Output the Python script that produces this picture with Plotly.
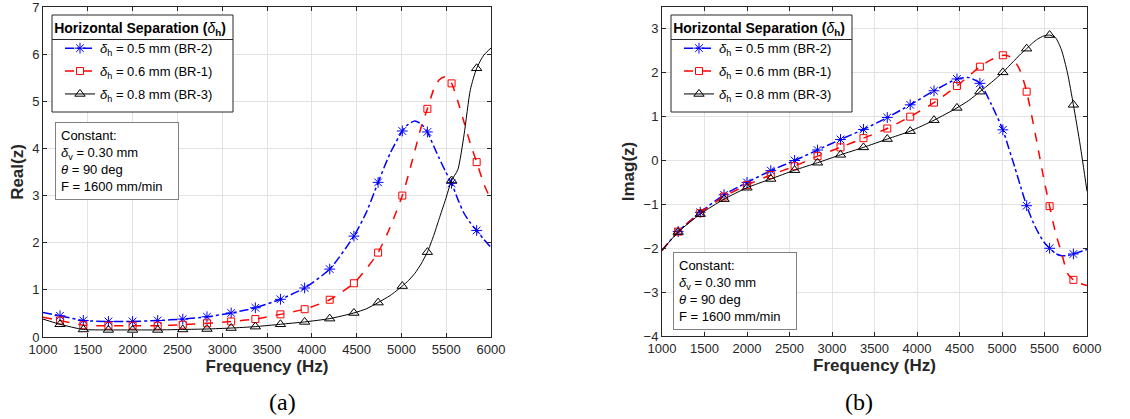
import plotly.graph_objects as go

# ---------------- data ----------------
freq = [1000, 1190, 1450, 1730, 2000, 2280, 2560, 2830, 3100, 3370, 3650, 3920, 4200, 4470,
        4610, 4740, 4875, 5010, 5080, 5150, 5220, 5290, 5360, 5420, 5490, 5560, 5630, 5700,
        5770, 5840, 5920, 6000]
marker_freq = [1190, 1450, 1730, 2000, 2280, 2560, 2830, 3100, 3370, 3650, 3920, 4200, 4470,
               4740, 5010, 5290, 5560, 5840]

real_br2 = [0.52, 0.45, 0.35, 0.33, 0.33, 0.35, 0.38, 0.43, 0.51, 0.62, 0.80, 1.04, 1.44, 2.14,
            2.65, 3.28, 3.90, 4.37, 4.52, 4.58, 4.52, 4.35, 4.05, 3.80, 3.52, 3.26, 2.92, 2.62,
            2.42, 2.26, 2.07, 1.90]
real_br1 = [0.42, 0.35, 0.25, 0.24, 0.24, 0.24, 0.26, 0.29, 0.33, 0.38, 0.48, 0.59, 0.79, 1.14,
            1.45, 1.79, 2.33, 3.00, 3.45, 3.95, 4.45, 4.84, 5.25, 5.45, 5.52, 5.38, 5.00, 4.55,
            4.10, 3.71, 3.25, 2.90]
real_br3 = [0.38, 0.27, 0.16, 0.15, 0.15, 0.15, 0.16, 0.17, 0.19, 0.22, 0.27, 0.32, 0.39, 0.51,
            0.60, 0.73, 0.88, 1.08, 1.20, 1.35, 1.55, 1.80, 2.15, 2.50, 2.90, 3.32, 3.55, 4.30,
            5.25, 5.70, 5.98, 6.13]

imag_br2 = [-2.05, -1.62, -1.18, -0.78, -0.50, -0.23, 0.00, 0.24, 0.48, 0.71, 0.98, 1.27, 1.59, 1.86,
            1.89, 1.76, 1.28, 0.70, 0.28, -0.15, -0.60, -1.03, -1.38, -1.62, -1.85, -2.00, -2.12, -2.17,
            -2.17, -2.13, -2.08, -2.03]
imag_br1 = [-2.05, -1.62, -1.20, -0.82, -0.56, -0.33, -0.13, 0.10, 0.30, 0.51, 0.73, 1.00, 1.32, 1.70,
            1.93, 2.14, 2.30, 2.40, 2.38, 2.27, 2.02, 1.57, 0.92, 0.32, -0.40, -1.04, -1.65, -2.10,
            -2.57, -2.72, -2.80, -2.85]
imag_br3 = [-2.05, -1.63, -1.22, -0.88, -0.62, -0.42, -0.22, -0.05, 0.13, 0.30, 0.49, 0.67, 0.92, 1.20,
            1.37, 1.57, 1.78, 2.01, 2.15, 2.29, 2.43, 2.55, 2.68, 2.77, 2.84, 2.86, 2.80, 2.52,
            2.00, 1.27, 0.35, -0.70]

x_ticks = [1000, 1500, 2000, 2500, 3000, 3500, 4000, 4500, 5000, 5500, 6000]
real_ticks = [0, 1, 2, 3, 4, 5, 6, 7]
imag_ticks = [-4, -3, -2, -1, 0, 1, 2, 3]

series_names = ["<i>δ</i><sub>h</sub> = 0.5 mm (BR-2)",
                "<i>δ</i><sub>h</sub> = 0.6 mm (BR-1)",
                "<i>δ</i><sub>h</sub> = 0.8 mm (BR-3)"]

# ---------------- styles ----------------
styles = [
    dict(color="#0000ff", dash="dashdot", width=1.5, symbol="asterisk-open", msize=9),
    dict(color="#ff0000", dash="dash", width=1.5, symbol="square-open", msize=7),
    dict(color="#000000", dash="solid", width=1.0, symbol="triangle-up-open", msize=9),
]

W, H = 1130, 419
FONT = "Liberation Sans, Arial, Helvetica, sans-serif"
AX = "#262626"

fig = go.Figure()

idx = [freq.index(f) for f in marker_freq]

panels = [
    (("x", "y"), [real_br2, real_br1, real_br3], "legend"),
    (("x2", "y2"), [imag_br2, imag_br1, imag_br3], "legend2"),
]

for (xa, ya), data, leg in panels:
    for s, (vals, st, name) in enumerate(zip(data, styles, series_names)):
        fig.add_trace(go.Scatter(
            x=freq, y=vals, xaxis=xa, yaxis=ya, mode="lines",
            line=dict(color=st["color"], dash=st["dash"], width=st["width"], shape="spline", smoothing=0.6),
            showlegend=False, hoverinfo="skip"))
        fig.add_trace(go.Scatter(
            x=[freq[i] for i in idx], y=[vals[i] for i in idx], xaxis=xa, yaxis=ya, mode="markers",
            marker=dict(symbol=st["symbol"], size=st["msize"], color=st["color"],
                        line=dict(color=st["color"], width=1)),
            showlegend=False))
        fig.add_trace(go.Scatter(
            x=[None], y=[None], xaxis=xa, yaxis=ya, mode="lines+markers", name=name,
            line=dict(color=st["color"], dash=st["dash"], width=st["width"]),
            marker=dict(symbol=st["symbol"], size=st["msize"], color=st["color"],
                        line=dict(color=st["color"], width=1)),
            legend=leg, legendgroup=f"{leg}_{s}", showlegend=True))

L1, R1 = 43, 491
L2, R2 = 662, 1087
TOP, BOT = 7, 337

def px(x):
    return x / W

def py(y):
    return 1 - y / H

axis_common = dict(
    showline=True, linecolor=AX, linewidth=1, mirror="ticks",
    ticks="inside", ticklen=4, tickcolor=AX, tickwidth=1,
    showgrid=True, gridcolor="#e3e3e3", gridwidth=1, zeroline=False,
    tickfont=dict(family=FONT, size=13, color=AX), automargin=False,
    ticklabeloverflow="allow",
)
title_font = dict(family=FONT, size=17, color=AX)

fig.update_layout(
    width=W, height=H, margin=dict(l=0, r=0, t=0, b=0),
    paper_bgcolor="white", plot_bgcolor="white",
    font=dict(family=FONT, size=12, color=AX),
    xaxis=dict(domain=[px(L1), px(R1)], range=[1000, 6000], tickvals=x_ticks, anchor="y",
               title=dict(text="<b>Frequency (Hz)</b>", font=title_font, standoff=4),
               **axis_common),
    yaxis=dict(domain=[py(BOT), py(TOP)], range=[0, 7], tickvals=real_ticks, anchor="x",
               title=dict(text="<b>Real(z)</b>", font=title_font, standoff=4),
               **axis_common),
    xaxis2=dict(domain=[px(L2), px(R2)], range=[1000, 6000], tickvals=x_ticks, anchor="y2",
                title=dict(text="<b>Frequency (Hz)</b>", font=title_font, standoff=4),
                **axis_common),
    yaxis2=dict(domain=[py(336), py(TOP)], range=[-4, 3.5], tickvals=imag_ticks, anchor="x2",
                title=dict(text="<b>Imag(z)</b>", font=title_font, standoff=4),
                **axis_common),
)

legend_title = "<b>Horizontal Separation (</b><i>δ</i><b><sub>h</sub>)</b>"
leg_common = dict(
    xanchor="left", yanchor="top", bgcolor="rgba(0,0,0,0)", borderwidth=0,
    font=dict(family=FONT, size=13, color="#000000"),
    title=dict(text=legend_title, side="top center", font=dict(family=FONT, size=14, color="#000000")),
    itemwidth=30, tracegroupgap=3, indentation=8,
)
LEG1_X, LEG2_X, LEG_Y, LEG_W, LEG_B, LEG_DIV = 52, 671, 15, 181, 112, 39.5
fig.update_layout(
    legend=dict(x=px(LEG1_X), y=py(LEG_Y), **leg_common),
    legend2=dict(x=px(LEG2_X), y=py(LEG_Y), **leg_common),
)
# legend frame (white box) and divider between legend title and entries
for lx in (LEG1_X, LEG2_X):
    fig.add_shape(type="rect", xref="paper", yref="paper", x0=px(lx), x1=px(lx + LEG_W),
                  y0=py(LEG_B), y1=py(LEG_Y), line=dict(color=AX, width=1), fillcolor="white",
                  layer="above")
    fig.add_shape(type="line", xref="paper", yref="paper", x0=px(lx), x1=px(lx + LEG_W),
                  y0=py(LEG_DIV), y1=py(LEG_DIV), line=dict(color=AX, width=1), layer="above")

const_text = ("Constant:<br><i>δ</i><sub>v</sub> = 0.30 mm<br><i>θ</i> = 90 deg<br>F = 1600 mm/min")
for cx, cy in [(55, 122), (673, 252)]:
    fig.add_annotation(x=px(cx), y=py(cy), xref="paper", yref="paper", xanchor="left", yanchor="top",
                       text=const_text, showarrow=False, align="left", width=112,
                       bordercolor="#808080", borderwidth=1,
                       borderpad=5, bgcolor="white", font=dict(family=FONT, size=13, color="#000000"))

for text, (l, r) in [("(a)", (L1, R1)), ("(b)", (L2, R2))]:
    fig.add_annotation(x=px((l + r) / 2), y=py(402), xref="paper", yref="paper", text=text,
                       yanchor="middle", showarrow=False,
                       font=dict(family="Liberation Serif, Times New Roman, serif", size=24, color="#000000"))

fig.write_html("out.html", config={"displayModeBar": False},
               post_script="document.body.style.margin='0px';")
